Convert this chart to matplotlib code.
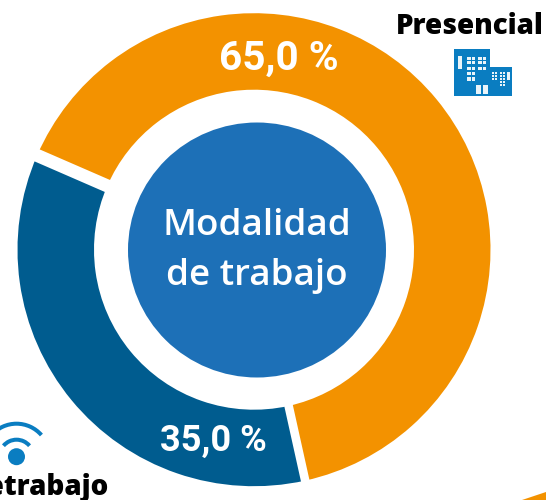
import numpy as np
import matplotlib.pyplot as plt
from matplotlib.patches import Arc, Circle, Ellipse, Polygon, Rectangle

plt.rcParams['font.family'] = ['Open Sans', 'DejaVu Sans']

# modalidad de trabajo, %
labels = ['Presencial', 'Teletrabajo']
values = [65.0, 35.0]
value_labels = ['65,0 %', '35,0 %']
colors = ['#F39200', '#005C8F']

H = 500
START = 156.5
CX, CY = 254, H - 249.7

fig = plt.figure(figsize=(5.46, 5.0), dpi=100)
ax = fig.add_axes([0, 0, 1, 1])

# pixel space, y goes up
ax.pie(values, colors=colors, startangle=START, counterclock=False,
       center=(CX, CY), radius=236.5, wedgeprops={'width': 76.5, 'linewidth': 0})
ax.set_xlim(0, 546)
ax.set_ylim(0, H)
ax.set_aspect('equal')
ax.axis('off')

# white gaps between the two wedges, not the same width in the original
gap_angles = [START, START - values[0] / sum(values) * 360]
gap_widths = [9.4, 6.2]
for ang, w in zip(gap_angles, gap_widths):
    a = np.radians(ang)
    ax.plot([CX + 150 * np.cos(a), CX + 250 * np.cos(a)],
            [CY + 150 * np.sin(a), CY + 250 * np.sin(a)],
            color='white', lw=w, solid_capstyle='butt', zorder=3)

ax.add_patch(Ellipse((257, H - 250), 258, 255, color='#1D70B7', lw=0, zorder=4))
ax.text(257, H - 226, 'Modalidad', color='white', fontsize=26.5, fontweight='semibold',
        ha='center', va='center', zorder=5)
ax.text(257, H - 276, 'de trabajo', color='white', fontsize=26.5, fontweight='semibold',
        ha='center', va='center', zorder=5)

ax.text(279, H - 59, value_labels[0], color='white', fontsize=29.2, fontweight='bold',
        family='Roboto', ha='center', va='center', zorder=5)
ax.text(213, H - 441, value_labels[1], color='white', fontsize=26, fontweight='bold',
        family='Roboto', ha='center', va='center', zorder=5)

ax.text(470, H - 26, labels[0], color='black', fontsize=20, fontweight='extra bold',
        ha='center', va='center')
ax.text(109, H - 487, labels[1], color='black', fontsize=20, fontweight='extra bold',
        ha='right', va='center')


def white_box(x0, y0, x1, y1):
    # corners as read on the picture, y from the top
    ax.add_patch(Rectangle((x0, H - y1), x1 - x0, y1 - y0, color='white', alpha=0.92, lw=0))


# edificio icon
icon_blue = '#0A7DC1'
ax.add_patch(Polygon([(454, H - 49), (490, H - 49), (490, H - 67), (512, H - 67),
                      (512, H - 96), (454, H - 96)], closed=True, color=icon_blue, lw=0))
white_box(458, 56, 462, 69)
white_box(507, 72, 509.5, 80)
big_rows = [(57, 60), (61, 64), (67, 70), (72, 75), (77, 81)]
for i, (y0, y1) in enumerate(big_rows):
    for x0 in [467, 471.5]:
        white_box(x0, y0, x0 + 3.6, y1)
    if i < 3:
        for x0 in [478, 482.5]:
            white_box(x0, y0, x0 + 3.6, y1)
small_rows = [(72, 74), (75, 77), (78, 80), (81, 83), (84, 86)]
for i, (y0, y1) in enumerate(small_rows):
    if i < 3:
        for x0 in [492, 495]:
            white_box(x0, y0, x0 + 2.2, y1)
    for x0 in [499.5, 502.5]:
        white_box(x0, y0, x0 + 2.2, y1)
white_box(475.5, 85, 481, 94)
white_box(482.5, 85, 488, 94)

# wifi icon
ax.add_patch(Circle((16.5, H - 456.7), 8.5, color=icon_blue, lw=0))
ax.add_patch(Arc((16.5, H - 456.7), 34, 34, theta1=40, theta2=140, color=icon_blue, lw=2.9))
ax.add_patch(Arc((16.5, H - 456.7), 66, 66, theta1=41, theta2=139, color=icon_blue, lw=2.9))

# esquina naranja de la forma siguiente
ax.add_patch(Polygon([(522, 0), (546, 0), (546, 8)], closed=True, color=colors[0], lw=0))

fig.savefig('out.png', dpi=100)
plt.close(fig)
